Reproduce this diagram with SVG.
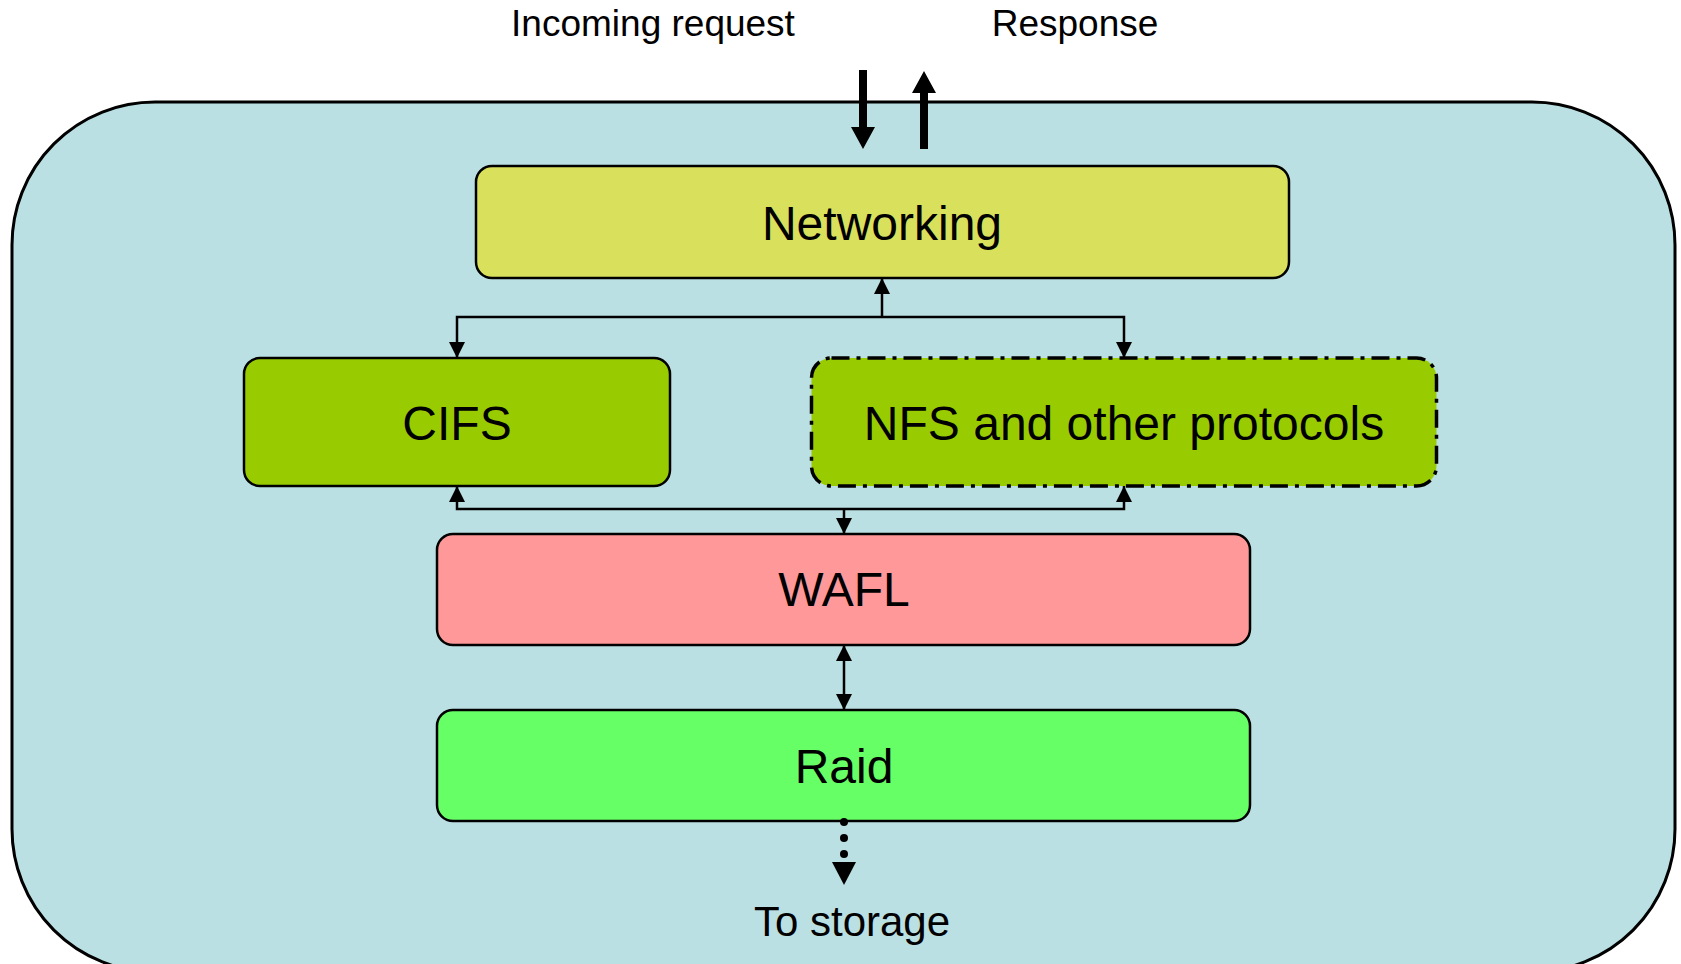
<svg xmlns="http://www.w3.org/2000/svg" width="1681" height="964" viewBox="0 0 1681 964">
<style>
.t{font-family:"Liberation Sans",Arial,sans-serif;fill:#000;text-anchor:middle}
.box{stroke:#000;stroke-width:2.5}
.c{fill:none;stroke:#000;stroke-width:2.5}
</style>
<defs>
<marker id="ah" viewBox="0 0 16 16" refX="16" refY="8" markerWidth="16" markerHeight="16" markerUnits="userSpaceOnUse" orient="auto">
<path d="M0,0 L16,8 L0,16 Z" fill="#000"/>
</marker>
</defs>
<rect id="container" x="12" y="102" width="1663" height="870" rx="143" ry="143" fill="#BBE0E3" stroke="#000" stroke-width="3"/>
<text class="t" x="653" y="36" font-size="37">Incoming request</text>
<text class="t" x="1075" y="36" font-size="37">Response</text>
<g id="node-networking"><rect class="box" x="476" y="166" width="813" height="112" rx="16" fill="#D9E15C"/><text class="t" x="882" y="240" font-size="48">Networking</text></g>
<g id="node-cifs"><rect class="box" x="244" y="358" width="426" height="128" rx="16" fill="#99CC00"/><text class="t" x="457" y="440" font-size="48">CIFS</text></g>
<g id="node-nfs"><rect x="811.5" y="358" width="625" height="128" rx="20" fill="#99CC00" stroke="#000" stroke-width="3.5" stroke-dasharray="18 7 4 7"/><text class="t" x="1124" y="440" font-size="48">NFS and other protocols</text></g>
<g id="node-wafl"><rect class="box" x="437" y="534" width="813" height="111" rx="16" fill="#FF9999"/><text class="t" x="844" y="606" font-size="48">WAFL</text></g>
<g id="node-raid"><rect class="box" x="437" y="710" width="813" height="111" rx="16" fill="#66FF66"/><text class="t" x="844" y="783" font-size="48">Raid</text></g>
<text class="t" x="852" y="936" font-size="42">To storage</text>
<g id="connectors">
<path d="M859,70 H867 V127 H875 L863,149 L851,127 H859 Z" fill="#000"/>
<path d="M920,149 H928 V93 H936 L924,71 L912,93 H920 Z" fill="#000"/>
<path class="c" d="M882,317 V278" marker-end="url(#ah)"/>
<path class="c" d="M882,317 H457 V358" marker-end="url(#ah)"/>
<path class="c" d="M882,317 H1124 V358" marker-end="url(#ah)"/>
<path class="c" d="M844,509 H457 V486" marker-end="url(#ah)"/>
<path class="c" d="M844,509 H1124 V486" marker-end="url(#ah)"/>
<path class="c" d="M844,509 V534" marker-end="url(#ah)"/>
<path class="c" d="M844,678 V645" marker-end="url(#ah)"/>
<path class="c" d="M844,678 V710" marker-end="url(#ah)"/>
<circle cx="844" cy="822" r="4" fill="#000"/>
<circle cx="844" cy="838" r="4" fill="#000"/>
<circle cx="844" cy="854" r="4" fill="#000"/>
<path d="M832,862 H856 L844,885 Z" fill="#000"/>
</g>
</svg>
